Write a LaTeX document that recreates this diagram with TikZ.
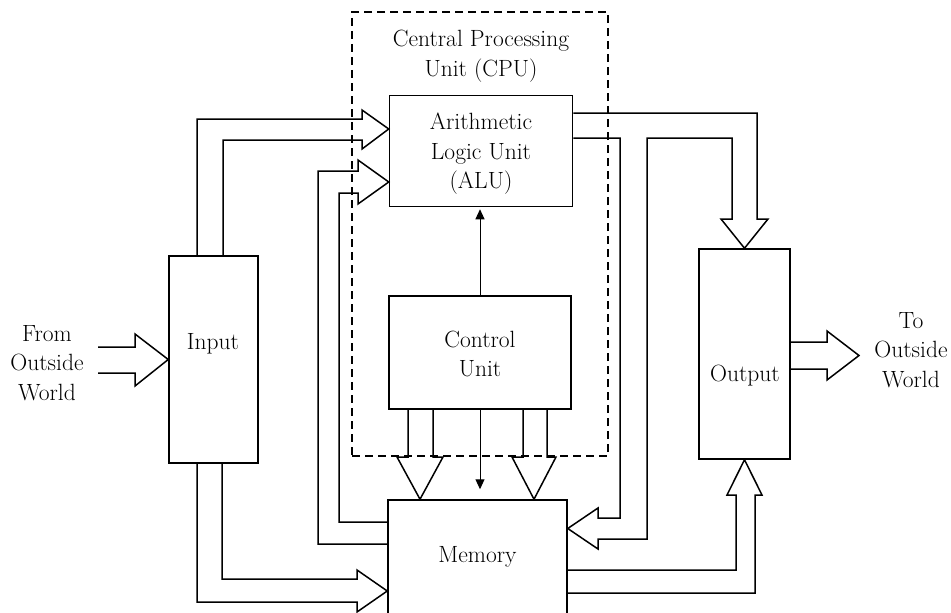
\documentclass[tikz,border=0pt]{standalone}
\usetikzlibrary{calc,arrows.meta}
\tikzset{
	unit/.style={draw, line width=1.5pt, inner sep=0pt},
	cpubox/.style={draw, line width=1.6pt, dash pattern=on 8pt off 5pt, inner sep=0pt},
	pipe/.style={line width=1.5pt, line join=miter},
	wire/.style={line width=1pt, -{Triangle[length=10pt,width=9pt]}},
	txt/.style={align=center, inner sep=0pt, font=\fontsize{23.5}{29.5}\selectfont}
}

\begin{document}
\begin{tikzpicture}[x=1pt, y=-1pt]
				\useasboundingbox (0,0) rectangle (951,613);
				
				\node[cpubox, minimum width=256, minimum height=444] (cpu) at (480,234) {};
				\node[txt] (cpulabel) at (481,56) {Central Processing\\Unit (CPU)};
				
				\node[unit, minimum width=183, minimum height=111] (alu) at (481,151) {};
				\node[txt] (alulabel) at (481,154) {Arithmetic\\Logic Unit\\(ALU)};
				\node[unit, minimum width=182, minimum height=113] (cu) at (480,352.5) {};
				\node[txt] (culabel) at (480,354) {Control\\Unit};
				\node[unit, minimum width=179, minimum height=116] (mem) at (477.5,558) {};
				\node[txt] (memlabel) at (477.5,557) {Memory};
				\node[unit, minimum width=89, minimum height=207] (inp) at (213.5,359.5) {};
				\node[txt] (inplabel) at (213,344) {Input};
				\node[unit, minimum width=91, minimum height=210] (outp) at (744.5,354) {};
				\node[txt] (outplabel) at (745,376) {Output};
				
				\node[txt] (fromworld) at (47,363) {From\\Outside\\World};
				\node[txt] (toworld) at (911,350) {To\\Outside\\World};
				
				\draw[pipe] (98,347) -- (135,347) -- (135,334) -- (inp.west) -- (135,386) -- (135,373) -- (98,373);
				\draw[pipe] (outp.east |- 0,342) -- (827,342) -- (827,331) -- (859,355.5) -- (827,380) -- (827,369) -- (outp.east |- 0,369);
				
				\draw[pipe] (197,0 |- inp.north) -- (197,119) -- (362,119) -- (362,110) -- (alu.west |- 0,129) -- (362,149) -- (362,140) -- (223,140) -- (223,0 |- inp.north);
				\draw[pipe] (197,0 |- inp.south) -- (197,602) -- (357,602) -- (357,612) -- (mem.west |- 0,591) -- (357,570) -- (357,579) -- (222,579) -- (222,0 |- inp.south);
				\draw[pipe] (mem.west |- 0,544) -- (318,544) -- (318,171) -- (358,171) -- (358,160) -- (alu.west |- 0,182) -- (358,204) -- (358,193) -- (339,193) -- (339,522) -- (mem.west |- 0,522);
				
				\draw[pipe] (alu.east |- 0,113) -- (757,113) -- (757,219) -- (768,219) -- (outp.north) -- (721,219) -- (732,219) -- (732,138) -- (647,138) -- (647,539) -- (598,539) -- (598,549) -- (mem.east |- 0,528.5) -- (598,508) -- (598,518) -- (620,518) -- (620,138) -- (alu.east |- 0,138);
				\draw[pipe] (mem.east |- 0,570) -- (736,570) -- (736,495) -- (727,495) -- (outp.south) -- (762,495) -- (755,495) -- (755,593) -- (mem.east |- 0,593);
				
				\draw[pipe] (408,0 |- cu.south) -- (408,457) -- (397,457) -- (420,0 |- mem.north) -- (443,457) -- (433,457) -- (433,0 |- cu.south);
				\draw[pipe] (523,0 |- cu.south) -- (523,457) -- (512,457) -- (534,0 |- mem.north) -- (556,457) -- (547,457) -- (547,0 |- cu.south);
				
				\draw[wire, shorten >=10pt] (cu.south) -- (cu.south |- mem.north);
				\draw[wire, shorten >=2pt] (cu.north) -- (cu.north |- alu.south);
			\end{tikzpicture}
\end{document}
